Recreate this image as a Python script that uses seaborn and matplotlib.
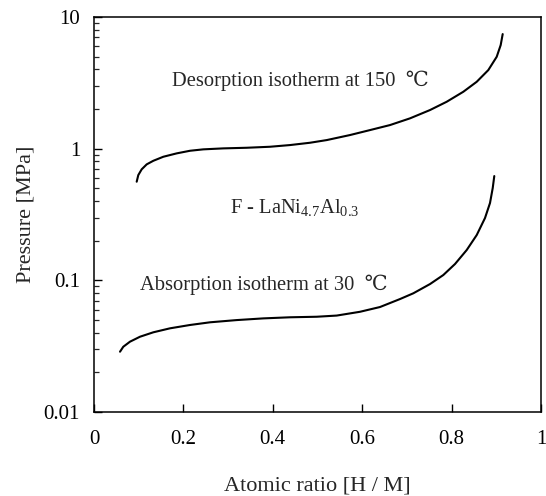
import numpy as np
import pandas as pd
import seaborn as sns
import matplotlib.pyplot as plt
from matplotlib.ticker import LogLocator, NullFormatter

# desorption isotherm at 150 C
des_x = [0.0955, 0.0991, 0.1067, 0.1179, 0.1327, 0.1550, 0.1850, 0.2148, 0.2445,
         0.2893, 0.3416, 0.3937, 0.4385, 0.4832, 0.5206, 0.5727, 0.6174, 0.6622,
         0.7069, 0.7517, 0.7890, 0.8262, 0.8562, 0.8821, 0.9009, 0.9098, 0.9143]
des_p = [0.561, 0.630, 0.697, 0.760, 0.809, 0.868, 0.921, 0.964, 0.988,
         1.005, 1.016, 1.034, 1.065, 1.109, 1.162, 1.269, 1.384, 1.511,
         1.699, 1.965, 2.271, 2.705, 3.221, 3.952, 4.987, 6.118, 7.418]

# absorption isotherm at 30 C
abs_x = [0.0582, 0.0655, 0.0805, 0.1029, 0.1327, 0.1700, 0.2148, 0.2595, 0.3192,
         0.3787, 0.4385, 0.4982, 0.5430, 0.5951, 0.6398, 0.6846, 0.7143, 0.7517,
         0.7814, 0.8076, 0.8338, 0.8562, 0.8747, 0.8859, 0.8920, 0.8955]
abs_p = [0.0287, 0.0313, 0.0342, 0.0373, 0.0403, 0.0432, 0.0458, 0.0480, 0.0499,
         0.0514, 0.0524, 0.0529, 0.0540, 0.0577, 0.0627, 0.0721, 0.0797, 0.0937,
         0.1097, 0.1330, 0.1699, 0.2208, 0.2972, 0.3864, 0.5023, 0.6194]

x_ticks = [0, 0.2, 0.4, 0.6, 0.8, 1]
x_labels = ["0", "0.2", "0.4", "0.6", "0.8", "1"]
y_ticks = [0.01, 0.1, 1, 10]
y_labels = ["0.01", "0.1", "1", "10"]

des = pd.DataFrame({"x": des_x, "p": des_p, "curve": "des"})
ab = pd.DataFrame({"x": abs_x, "p": abs_p, "curve": "abs"})
df = pd.concat([des, ab], ignore_index=True)

sns.set_theme(style="ticks")
plt.rcParams['font.family'] = ['Liberation Serif', 'DejaVu Serif', 'DejaVu Sans']
plt.rcParams['mathtext.fontset'] = 'custom'
plt.rcParams['mathtext.rm'] = 'Liberation Serif'
plt.rcParams['mathtext.it'] = 'Liberation Serif'
plt.rcParams['xtick.direction'] = 'in'
plt.rcParams['ytick.direction'] = 'in'

fig = plt.figure(figsize=(5.46, 4.96), dpi=100)
ax = fig.add_axes([94/546, 1-412/496, (541-94)/546, (412-17)/496])

sns.lineplot(data=df, x="x", y="p", units="curve", estimator=None, sort=False,
             color="black", lw=1.5, ax=ax)

ax.set_yscale("log")
ax.set_xlim(0, 1)
ax.set_ylim(0.01, 10)
ax.set_xticks(x_ticks)
ax.set_xticklabels(x_labels)
ax.set_yticks(y_ticks)
ax.set_yticklabels(y_labels)
ax.yaxis.set_minor_locator(LogLocator(base=10, subs=np.arange(2, 10)))
ax.yaxis.set_minor_formatter(NullFormatter())
ax.xaxis.set_minor_locator(plt.NullLocator())

for s in ax.spines.values():
    s.set_linewidth(1.1)
    s.set_color("black")
ax.tick_params(which="major", direction="in", length=6, width=1, colors="black",
               labelsize=15, top=False, right=False)
ax.tick_params(axis="y", which="minor", direction="in", length=3.5, width=0.9,
               right=False)
ax.tick_params(axis="y", which="major", pad=10)
ax.tick_params(axis="x", which="major", pad=13)

ax.set_xlabel("Atomic ratio [H / M]", fontsize=16, labelpad=20)
ax.set_ylabel("Pressure [MPa]", fontsize=16, labelpad=6)

ax.text(0.174, 3.3, "Desorption isotherm at 150  \u2103", fontsize=14.8,
        va="center", ha="left")
ax.text(0.304, 0.36, r"F - LaNi$_{4.7}$Al$_{0.3}$", fontsize=14.8,
        va="center", ha="left")
ax.text(0.103, 0.092, "Absorption isotherm at 30  \u2103", fontsize=14.8,
        va="center", ha="left")

fig.savefig("out.png", dpi=100)
